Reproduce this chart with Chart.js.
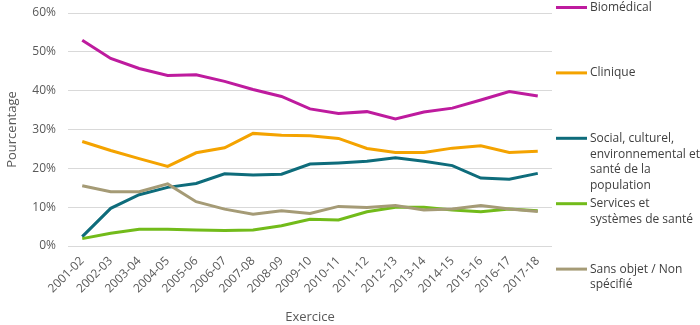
<!DOCTYPE html>
<html>
<head>
<meta charset="utf-8">
<script src="https://cdn.jsdelivr.net/npm/chart.js@4/dist/chart.umd.min.js"></script>
<style>
html,body{margin:0;padding:0;background:#fff}
#wrap{position:relative;width:700px;height:325px}
</style>
</head>
<body>
<div id="wrap"><canvas id="c" width="700" height="325"></canvas></div>
<script>
// exercices financiers
const years=['2001-02','2002-03','2003-04','2004-05','2005-06','2006-07','2007-08','2008-09','2009-10','2010-11','2011-12','2012-13','2013-14','2014-15','2015-16','2016-17','2017-18'];

// part du financement par thème (%)
const biomedical=[53.0,48.3,45.7,43.9,44.1,42.4,40.3,38.5,35.3,34.1,34.6,32.7,34.5,35.5,37.6,39.8,38.6];
const clinique=[26.9,24.6,22.5,20.5,24.0,25.3,29.0,28.5,28.4,27.7,25.1,24.1,24.1,25.2,25.8,24.1,24.4];
const social=[2.4,9.7,13.2,15.1,16.1,18.6,18.3,18.5,21.1,21.4,21.8,22.7,21.8,20.7,17.5,17.2,18.7];
const services=[1.9,3.3,4.3,4.3,4.1,4.0,4.1,5.2,6.9,6.7,8.8,10.0,10.0,9.3,8.8,9.5,9.1];
const sansObjet=[15.5,14.0,14.0,16.0,11.4,9.5,8.2,9.1,8.4,10.2,9.9,10.4,9.3,9.5,10.4,9.5,8.9];

const seriesNames=[['Biomédical'],['Clinique'],['Social, culturel,','environnemental et','santé de la','population'],['Services et','systèmes de santé'],['Sans objet / Non','spécifié']];
const colors=['#BE1B9E','#F4A300','#0E6C7B','#72BB1A','#A59B76'];
const yTicks=[0,10,20,30,40,50,60];

const font="'Open Sans', sans-serif";
const txt='#595959';

// légende à droite, une entrée par série
const sideLegend={
  id:'sideLegend',
  afterDraw(chart){
    const ctx=chart.ctx;
    ctx.save();
    ctx.font='12px '+font;
    ctx.textBaseline='middle';
    seriesNames.forEach((lines,i)=>{
      const y=7.5+i*65.4;
      ctx.strokeStyle=colors[i];
      ctx.lineWidth=3;
      ctx.beginPath();ctx.moveTo(556,y);ctx.lineTo(587,y);ctx.stroke();
      ctx.fillStyle='#404040';
      lines.forEach((t,k)=>ctx.fillText(t,590,y+k*15.8));
    });
    ctx.restore();
  }
};

const sets=[biomedical,clinique,social,services,sansObjet];
// dernière série dessinée au-dessus
const datasets=sets.map((d,i)=>({
  label:seriesNames[i].join(' '),
  data:d,
  borderColor:colors[i],
  backgroundColor:colors[i],
  borderWidth:3,
  pointRadius:0,
  tension:0
})).reverse();

new Chart(document.getElementById('c'),{
  type:'line',
  data:{labels:years,datasets:datasets},
  options:{
    responsive:false,
    animation:false,
    layout:{padding:{top:13,right:148,left:0,bottom:0}},
    plugins:{legend:{display:false},tooltip:{enabled:false}},
    scales:{
      x:{
        offset:true,
        grid:{display:false},
        border:{display:false},
        ticks:{color:txt,font:{family:font,size:12},minRotation:45,maxRotation:45,padding:0},
        title:{display:true,text:'Exercice',color:txt,font:{family:font,size:13},padding:{top:4,bottom:0}},
        afterFit(s){s.height=79}
      },
      y:{
        min:0,max:60,
        afterBuildTicks(s){s.ticks=yTicks.map(v=>({value:v}))},
        grid:{color:'#D9D9D9',lineWidth:1,drawTicks:false},
        border:{display:false},
        ticks:{color:txt,font:{family:font,size:12},padding:12,callback:v=>v+'%'},
        title:{display:true,text:'Pourcentage',color:txt,font:{family:font,size:13},padding:{bottom:8}},
        afterFit(s){s.width=68;s.paddingTop=0;s.paddingBottom=0}
      }
    }
  },
  plugins:[sideLegend]
});
</script>
</body>
</html>
